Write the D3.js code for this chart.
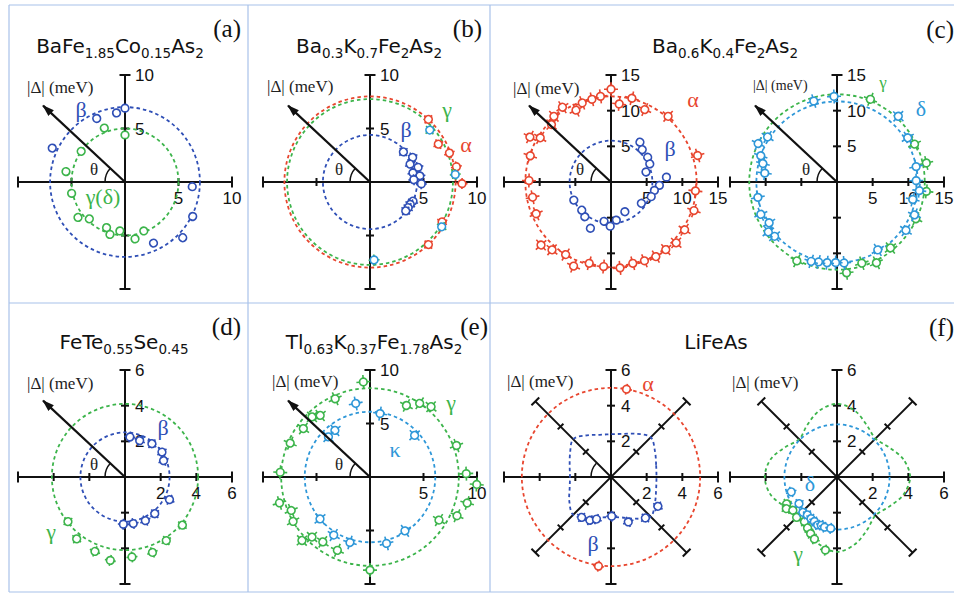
<!DOCTYPE html>
<html lang="en">
<head>
<meta charset="UTF-8">
<title>Gap anisotropy polar plots</title>
<style>
  body { margin: 0; background: #fff; }
  svg { display: block; }
  .title { font-family: "DejaVu Sans", Arial, sans-serif; font-size: 20px; fill: #111; }
  .tick-label { font-family: "Liberation Sans", Arial, sans-serif; font-size: 17px; fill: #111; }
  .serif { font-family: "Liberation Serif", "Times New Roman", serif; }
</style>
</head>
<body>
<div id="chart"></div>
<script src="https://d3js.org/d3.v7.min.js"></script>
<script>
// ---- data: [angle in degrees, |gap| in meV] ----
const ticks10 = [5, 10];
const ticks15 = [5, 10, 15];
const ticks6 = [2, 4, 6];

// (a) BaFe1.85Co0.15As2
const aBetaFit = 7.0;
const aGammaFit = 5.0;
const aBeta = [[90,6.9],[97,6.5],[114,6.5],[155,7.5],[-4,6.3],[-27,7.1],[-44,7.5],[-65,6.3]];
const aGamma = [[90,4.4],[111,5.4],[145,5.0],[170,5.6],[192,5.1],[217,5.5],[226,4.8],[248,4.6],[254,5.1],[264,4.6],[280,5.4],[291,4.9]];

// (b) Ba0.3K0.7Fe2As2
const bAlphaFit = 8.0;
const bGammaFit = 7.75;
const bBetaFit = 4.4;
const bBeta = [[42,4.2],[30,4.6],[24,4.1],[17,4.7],[12,4.1],[7,4.7],[3,4.1],[-2,4.8],[-24,4.4],[-29,4.3],[-34,4.3],[-39,4.3]];
const bAlpha = [[47,8.0],[29,7.3],[20,7.9],[10,8.2],[-1,8.6],[-29,7.7],[-47,8.0]];
const bGamma = [[41,7.4],[5,8.0],[-32,7.9],[-87,7.3]];

// (c) Ba0.6K0.4Fe2As2, left: alpha / beta
const cAlphaFit = 12.0;
const cBetaFit = 5.8;
const cAlpha = [[90,13.0],[97,12.1],[103,11.9],[110,11.8],[116,11.2],[123,12.5],[131,12.2],[136,11.6],[148,11.7],[151,13.0],
  [162,11.9],[179,11.5],[191,11.2],[203,11.4],[222,13.2],[229,12.6],[238,12.0],[246,12.9],[255,11.8],[265,11.9],
  [276,12.1],[285,11.8],[293,12.0],[301,12.2],[309,12.2],[317,12.5],[327,12.3],[341,12.3],[354,11.9],[17,12.7],
  [49,12.2],[65,11.2],[76,12.1],[84,11.0]];
const cBeta = [[54,6.9],[46,6.3],[34,6.2],[25,6.0],[16,5.1],[5,7.8],[-4,6.8],[-11,6.2],[-20,6.0],[-35,5.2],
  [-65,4.6],[-82,5.4],[-91,6.2],[-100,5.6],[-114,7.1],[-127,6.1],[-136,5.7],[-154,5.8]];
// (c) right: gamma / delta
const cGammaFit = 12.3;
const cDeltaFit = 11.3;
const cDelta = [[106,11.8],[92,12.0],[47,12.6],[32,11.7],[11,11.3],[1,11.1],[-6,11.6],[-13,10.9],[-23,11.8],[-35,11.8],
  [-59,11.1],[-85,11.4],[-91,11.3],[-97,11.4],[-103,11.5],[-108,11.7],[-139,11.6],[-144,11.9],[-149,11.1],[-157,11.6],
  [-169,11.3],[173,10.2],[166,10.7],[161,11.3],[154,12.3],[147,11.6]];
const cGamma = [[68,12.5],[26,12.1],[12,12.8],[-6,12.6],[-25,12.2],[-51,11.9],[-64,12.6],[-73,11.9],[-84,12.8],[-117,12.4]];

// (d) FeTe0.55Se0.45
const dGammaFit = 4.1;
const dBetaFit = 2.5;
const dBeta = [[83,2.26],[68,2.2],[51,2.4],[34,2.5],[23,2.35],[-27,2.8],[-51,2.65],[-65,2.7],[-80,2.65],[-92,2.65]];
const dGamma = [[218,4.06],[232,4.4],[248,4.5],[260,4.75],[275,4.5],[290,4.5],[303,4.25],[320,4.2]];

// (e) Tl0.63K0.37Fe1.78As2
const eGammaFit = 8.3;
const eKappaFit = 6.1;
const eKappa = [[101,7.0],[81,6.0],[127,5.45],[136,5.4],[43,5.7],[220,6.1],[238,6.4],[253,6.4],[284,6.4],[303,6.0]];
const eGamma = [[94,8.9],[114,8.0],[129,7.4],[134,7.8],[144,7.7],[157,8.1],[177,8.4],[196,8.8],[203,8.0],[210,8.3],
  [223,8.7],[226,7.8],[234,7.5],[246,7.5],[270,8.7],[328,7.6],[336,8.9],[345,9.4],[356,10.0],[2,9.0],
  [20,8.6],[49,8.7],[56,8.3],[63,7.5]];

// (f) LiFeAs, fit curves sampled every 15 degrees
const fitAngles = d3.range(0, 360, 15);
const fAlphaFit = 5.0;
const fBetaFit = [2.55,2.62,2.85,3.15,2.8,2.5,2.4,2.45,2.7,3.0,2.65,2.4,2.3,2.4,2.7,3.0,2.65,2.35,2.25,2.35,2.7,3.15,2.85,2.62];
const fBeta = [[234,2.8],[244,2.7],[251,2.5],[271,2.2],[291,2.7],[310,3.0],[328,3.1]];
const fAlpha = [[80,5.0],[262,5.05]];
const fDeltaFit = 2.95;
const fGammaFit = [4.1,3.85,3.35,3.05,3.35,3.85,4.1,3.85,3.35,3.0,3.35,3.85,4.05,3.85,3.35,3.05,3.4,3.9,4.2,3.9,3.4,3.05,3.35,3.85];
const fDelta = [[198,2.7],[215,2.6],[226,2.75],[232,2.7],[238,2.75],[243,2.8],[248,2.9],[252,2.85],[256,2.9],[263,2.9]];
const fGamma = [[208,3.2],[212,3.35],[217,3.1],[225,3.2],[234,3.1],[240,3.3],[245,3.5],[250,3.7],[261,4.15]];

// titles: [text, subscript?]
const titleA = [["BaFe",0],["1.85",1],["Co",0],["0.15",1],["As",0],["2",1]];
const titleB = [["Ba",0],["0.3",1],["K",0],["0.7",1],["Fe",0],["2",1],["As",0],["2",1]];
const titleC = [["Ba",0],["0.6",1],["K",0],["0.4",1],["Fe",0],["2",1],["As",0],["2",1]];
const titleD = [["FeTe",0],["0.55",1],["Se",0],["0.45",1]];
const titleE = [["Tl",0],["0.63",1],["K",0],["0.37",1],["Fe",0],["1.78",1],["As",0],["2",1]];
const titleF = [["LiFeAs",0]];

// ---- colours ----
const BLUE = "#2f4fb6";
const CYAN = "#2e97d8";
const GREEN = "#3cb44b";
const RED = "#e8462f";

const width = 954;
const height = 596;
const axisLen = 107;   // pixel length of one half axis

// layout of the eight polar plots
const panels = [
  {cx:125, cy:182, max:10, ticks:ticks10, arrow:true, theta:true, arc:true, err:3.5,
   fits:[{r:aBetaFit, c:BLUE}, {r:aGammaFit, c:GREEN}],
   series:[{pts:aBeta, c:BLUE}, {pts:aGamma, c:GREEN}],
   labels:[{t:"β", c:BLUE, x:-44, y:-65}, {t:"γ(δ)", c:GREEN, x:-22, y:22}],
   delta:{x:-98, y:-89, s:17}},
  {cx:370, cy:182, max:10, ticks:ticks10, arrow:true, theta:true, arc:true, err:5.5,
   fits:[{r:bAlphaFit, c:RED}, {r:bGammaFit, c:GREEN}, {r:bBetaFit, c:BLUE}],
   series:[{pts:bBeta, c:BLUE}, {pts:bAlpha, c:RED}, {pts:bGamma, c:CYAN, e:GREEN}],
   labels:[{t:"β", c:BLUE, x:36, y:-45}, {t:"γ", c:GREEN, x:77, y:-65}, {t:"α", c:RED, x:96, y:-30}],
   delta:{x:-103, y:-90, s:17}},
  {cx:611, cy:182, max:15, ticks:ticks15, arrow:true, theta:true, arc:true, err:7,
   fits:[{r:cAlphaFit, c:RED}, {r:cBetaFit, c:BLUE}],
   series:[{pts:cAlpha, c:RED}, {pts:cBeta, c:BLUE, noErr:true}],
   labels:[{t:"α", c:RED, x:82, y:-75}, {t:"β", c:BLUE, x:59, y:-26}],
   delta:{x:-98, y:-88, s:17}},
  {cx:837, cy:182, max:15, ticks:ticks15, arrow:true, theta:true, arc:true, err:7,
   fits:[{r:cGammaFit, c:GREEN}, {r:cDeltaFit, c:CYAN}],
   series:[{pts:cGamma, c:GREEN}, {pts:cDelta, c:CYAN}],
   labels:[{t:"γ", c:GREEN, x:46, y:-94, s:17}, {t:"δ", c:CYAN, x:84, y:-66}],
   delta:{x:-84, y:-92, s:14}},
  {cx:125, cy:477, max:6, ticks:ticks6, arrow:true, theta:true, arc:true, err:5.5,
   fits:[{r:dGammaFit, c:GREEN}, {r:dBetaFit, c:BLUE}],
   series:[{pts:dBeta, c:BLUE}, {pts:dGamma, c:GREEN}],
   labels:[{t:"β", c:BLUE, x:38, y:-42}, {t:"γ", c:GREEN, x:-74, y:62}],
   delta:{x:-98, y:-88, s:17}},
  {cx:370, cy:477, max:10, ticks:ticks10, arrow:true, theta:true, arc:true, err:7,
   fits:[{r:eGammaFit, c:GREEN}, {r:eKappaFit, c:CYAN}],
   series:[{pts:eKappa, c:CYAN}, {pts:eGamma, c:GREEN}],
   labels:[{t:"γ", c:GREEN, x:81, y:-67}, {t:"κ", c:CYAN, x:25, y:-20}],
   delta:{x:-98, y:-90, s:17}},
  {cx:611, cy:477, max:6, ticks:ticks6, diag:true, arc:true, err:5.5,
   fits:[{r:fAlphaFit, c:RED}, {rs:fBetaFit, c:BLUE}],
   series:[{pts:fBeta, c:BLUE}, {pts:fAlpha, c:RED}],
   labels:[{t:"α", c:RED, x:37, y:-86}, {t:"β", c:BLUE, x:-18, y:74}],
   delta:{x:-104, y:-90, s:17}},
  {cx:837, cy:477, max:6, ticks:ticks6, diag:true, err:5.5,
   fits:[{rs:fGammaFit, c:GREEN}, {r:fDeltaFit, c:CYAN}],
   series:[{pts:fGamma, c:GREEN}, {pts:fDelta, c:CYAN}],
   labels:[{t:"δ", c:CYAN, x:-27, y:14}, {t:"γ", c:GREEN, x:-39, y:84}],
   delta:{x:-105, y:-89, s:17}}
];

const titles = [
  {parts:titleA, x:120, y:53}, {parts:titleB, x:369, y:53}, {parts:titleC, x:725, y:53},
  {parts:titleD, x:124, y:349}, {parts:titleE, x:374, y:349}, {parts:titleF, x:716, y:349}
];
const tags = [
  {t:"(a)", x:241, y:37}, {t:"(b)", x:482, y:37}, {t:"(c)", x:954, y:38},
  {t:"(d)", x:241, y:335}, {t:"(e)", x:488, y:335}, {t:"(f)", x:954, y:336}
];

// ---- svg ----
const svg = d3.select("#chart")
  .append("svg")
  .attr("width", width)
  .attr("height", height);

svg.append("defs").append("marker")
  .attr("id", "arrowHead")
  .attr("viewBox", "0 -5 12 10")
  .attr("refX", 11)
  .attr("refY", 0)
  .attr("markerWidth", 12)
  .attr("markerHeight", 10)
  .attr("markerUnits", "userSpaceOnUse")
  .attr("orient", "auto")
  .append("path")
  .attr("d", "M0,-4L12,0L0,4Z")
  .attr("fill", "#111");

// panel frame
const frame = [
  [9, 5, 954, 5], [9, 303, 954, 303], [9, 592, 954, 592],
  [9, 5, 9, 592], [248, 5, 248, 592], [490, 5, 490, 592]
];
svg.selectAll("line.frame")
  .data(frame)
  .enter()
  .append("line")
  .attr("class", "frame")
  .attr("x1", d => d[0]).attr("y1", d => d[1])
  .attr("x2", d => d[2]).attr("y2", d => d[3])
  .attr("stroke", "#a8c2ea")
  .attr("stroke-width", 1.2);

const rad = deg => deg * Math.PI / 180;

panels.forEach(p => {
  const r = d3.scaleLinear().domain([0, p.max]).range([0, axisLen]);
  const g = svg.append("g").attr("transform", `translate(${p.cx},${p.cy})`);

  // axes with ticks and end caps
  const dirs = p.diag ? [0, 45, 90, 135] : [0, 90];
  dirs.forEach(deg => {
    const ux = Math.cos(rad(deg)), uy = -Math.sin(rad(deg));
    g.append("line")
      .attr("x1", -r(p.max) * ux).attr("y1", -r(p.max) * uy)
      .attr("x2", r(p.max) * ux).attr("y2", r(p.max) * uy)
      .attr("stroke", "#111").attr("stroke-width", 2);
    p.ticks.forEach(v => {
      [v, -v].forEach(s => {
        const half = v === p.max ? 5.5 : 4;
        const px = Math.sign(s) * r(v);
        g.append("line")
          .attr("x1", px * ux + half * uy).attr("y1", px * uy - half * ux)
          .attr("x2", px * ux - half * uy).attr("y2", px * uy + half * ux)
          .attr("stroke", "#111").attr("stroke-width", 2);
      });
    });
  });

  // tick labels on the positive x and y axes
  g.selectAll("text.xl")
    .data(p.ticks)
    .enter()
    .append("text")
    .attr("class", "tick-label")
    .attr("x", d => r(d))
    .attr("y", 22)
    .attr("text-anchor", "middle")
    .text(d => d);
  g.selectAll("text.yl")
    .data(p.ticks)
    .enter()
    .append("text")
    .attr("class", "tick-label")
    .attr("x", 10)
    .attr("y", d => -r(d) + 6)
    .text(d => d);

  // fitted gap curves (dashed)
  p.fits.forEach(f => {
    if (f.rs) {
      const line = d3.lineRadial()
        .angle((d, i) => rad(90 - fitAngles[i]))
        .radius(d => r(d))
        .curve(d3.curveCatmullRomClosed);
      g.append("path")
        .attr("d", line(f.rs))
        .attr("fill", "none")
        .attr("stroke", f.c).attr("stroke-width", 1.8)
        .attr("stroke-dasharray", "3.5,3");
    } else {
      g.append("circle")
        .attr("r", r(f.r))
        .attr("fill", "none")
        .attr("stroke", f.c).attr("stroke-width", 1.8)
        .attr("stroke-dasharray", "3.5,3");
    }
  });

  // measured points with error bars
  p.series.forEach(s => {
    const pts = g.selectAll(null)
      .data(s.pts)
      .enter()
      .append("g")
      .attr("transform", d => {
        const t = rad(d[0]);
        return `translate(${r(d[1]) * Math.cos(t)},${-r(d[1]) * Math.sin(t)}) rotate(${-d[0]})`;
      });
    if (!s.noErr) {
      pts.append("path")
        .attr("d", `M${-p.err},0H${p.err}M0,${-p.err}V${p.err}`)
        .attr("stroke", s.e || s.c)
        .attr("stroke-width", 1.6);
    }
    pts.append("circle")
      .attr("r", 3.8)
      .attr("fill", "#fff")
      .attr("stroke", s.c)
      .attr("stroke-width", 1.7);
  });

  // arrow for |gap| direction
  const arrowDeg = 137;
  if (p.arrow) {
    g.append("line")
      .attr("x1", 0).attr("y1", 0)
      .attr("x2", 112 * Math.cos(rad(arrowDeg)))
      .attr("y2", -112 * Math.sin(rad(arrowDeg)))
      .attr("stroke", "#111").attr("stroke-width", 2.2)
      .attr("marker-end", "url(#arrowHead)");
  }
  if (p.arc) {
    const path = d3.path();
    path.arc(0, 0, 20, Math.PI, rad(360 - arrowDeg), false);
    g.append("path")
      .attr("d", path.toString())
      .attr("fill", "none")
      .attr("stroke", "#111").attr("stroke-width", 1.5);
  }
  if (p.theta) {
    g.append("text")
      .attr("class", "serif")
      .attr("x", -35).attr("y", -7)
      .style("font-size", "17px")
      .attr("fill", "#222")
      .text("θ");
  }

  g.append("text")
    .attr("class", "serif")
    .attr("x", p.delta.x).attr("y", p.delta.y)
    .style("font-size", p.delta.s + "px")
    .attr("fill", "#222")
    .text("|Δ| (meV)");

  // band names
  g.selectAll(null)
    .data(p.labels)
    .enter()
    .append("text")
    .attr("class", "serif")
    .attr("x", d => d.x).attr("y", d => d.y)
    .attr("text-anchor", "middle")
    .style("font-size", d => (d.s || 22) + "px")
    .attr("fill", d => d.c)
    .text(d => d.t);
});

// titles with subscripts
titles.forEach(tt => {
  const text = svg.append("text")
    .attr("class", "title")
    .attr("x", tt.x).attr("y", tt.y)
    .attr("text-anchor", "middle");
  let inSub = false;
  tt.parts.forEach(([str, sub]) => {
    const span = text.append("tspan").text(str);
    if (sub && !inSub) span.attr("dy", 5).style("font-size", "13.5px");
    else if (sub) span.style("font-size", "13.5px");
    else if (inSub) span.attr("dy", -5);
    inSub = !!sub;
  });
});

svg.selectAll("text.tag")
  .data(tags)
  .enter()
  .append("text")
  .attr("class", "serif")
  .attr("x", d => d.x).attr("y", d => d.y)
  .attr("text-anchor", "end")
  .style("font-size", "25px")
  .attr("fill", "#111")
  .text(d => d.t);
</script>
</body>
</html>
